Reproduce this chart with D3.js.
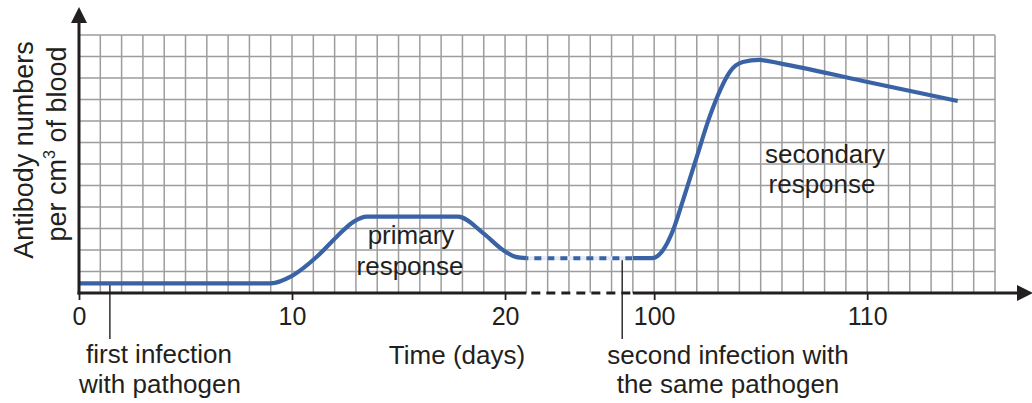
<!DOCTYPE html>
<html>
<head>
<meta charset="utf-8">
<script src="https://cdn.jsdelivr.net/npm/d3@7/dist/d3.min.js"></script>
<style>
  html, body { margin: 0; padding: 0; background: #fff; }
  svg { display: block; }
  text { font-family: "Liberation Sans", Arial, Helvetica, sans-serif; fill: #231f20; }
</style>
</head>
<body>
<svg id="chart" width="1032" height="403"></svg>
<script>
// ---- data (day, antibody level in grid units) ----
const primaryDays   = [0, 9, 10, 11.2, 12.1, 12.9, 13.5, 17.8, 19, 19.9, 20.5, 21];
const primaryValues = [0.45, 0.45, 0.8, 1.72, 2.62, 3.32, 3.55, 3.55, 2.76, 2.0, 1.68, 1.62];
const gapDays       = [21, 99];
const gapValues     = [1.62, 1.62];
const secondaryDays   = [99, 99.9, 100.42, 100.89, 101.36, 102.0, 102.6, 103.1, 103.55, 104.16, 104.95, 105.9, 109.8, 114.25];
const secondaryValues = [1.62, 1.62, 2.0, 2.93, 4.33, 6.33, 8.19, 9.44, 10.28, 10.74, 10.84, 10.68, 9.86, 8.93];
const tickDays   = [0, 10, 20, 100, 110];
const tickLabels = ["0", "10", "20", "100", "110"];
const firstInfectionDay  = 1.45;
const secondInfectionDay = 98.5;
const breakStartDay = 21, breakEndDay = 99;

const svg = d3.select("#chart");
const ink = "#231f20";
const blue = "#3a63a6";

// grid cells: 43 columns, 12 rows
const cellX = d3.scaleLinear().domain([0, 43]).range([79, 995]);
const x = d3.scaleLinear()
  .domain([0, 21, 97, 116])
  .range([cellX(0), cellX(21), cellX(24), cellX(43)]);
const y = d3.scaleLinear().domain([0, 12]).range([293, 35]);

// grid
const grid = svg.append("g");
grid.selectAll("line.v").data(d3.range(1, 44)).join("line")
  .attr("x1", d => cellX(d)).attr("x2", d => cellX(d))
  .attr("y1", y(12)).attr("y2", y(0))
  .attr("stroke", "#9d9d9d").attr("stroke-width", 1.5);
grid.selectAll("line.h").data(d3.range(1, 13)).join("line")
  .attr("x1", cellX(0)).attr("x2", cellX(43))
  .attr("y1", d => y(d)).attr("y2", d => y(d))
  .attr("stroke", "#9d9d9d").attr("stroke-width", 1.5);

// infection markers
function curveAt(days, vals, d) {
  return d3.scaleLinear().domain(days).range(vals)(d);
}
svg.append("line")
  .attr("x1", x(firstInfectionDay)).attr("x2", x(firstInfectionDay))
  .attr("y1", y(curveAt(primaryDays, primaryValues, firstInfectionDay))).attr("y2", 339)
  .attr("stroke", ink).attr("stroke-width", 1.4);
svg.append("line")
  .attr("x1", x(secondInfectionDay)).attr("x2", x(secondInfectionDay))
  .attr("y1", y(gapValues[0])).attr("y2", 339)
  .attr("stroke", ink).attr("stroke-width", 1.4);

// curves
const line = d3.line().x(d => x(d[0])).y(d => y(d[1])).curve(d3.curveMonotoneX);
const prim = d3.zip(primaryDays, primaryValues);
const gap  = d3.zip(gapDays, gapValues);
const sec  = d3.zip(secondaryDays, secondaryValues);

svg.append("path").attr("d", line(gap)).attr("fill", "none")
  .attr("stroke", "#e3eaf5").attr("stroke-width", 4);
svg.append("path").attr("d", line(gap)).attr("fill", "none")
  .attr("stroke", blue).attr("stroke-width", 4)
  .attr("stroke-dasharray", "7,6").attr("stroke-dashoffset", -8);
[prim, sec].forEach(s => {
  svg.append("path").attr("d", line(s)).attr("fill", "none")
    .attr("stroke", blue).attr("stroke-width", 4.2)
    .attr("stroke-linecap", "butt").attr("stroke-linejoin", "round");
});

// axes
const xAxis = d3.axisBottom(x).tickValues(tickDays).tickSize(7).tickFormat((d, i) => tickLabels[i]);
const gx = svg.append("g").attr("transform", `translate(0,${y(0)})`).call(xAxis);
gx.select(".domain").remove();
gx.selectAll(".tick line").attr("stroke", ink).attr("stroke-width", 1.8);
gx.selectAll(".tick text")
  .attr("y", 32).attr("dy", null)
  .style("font-family", "'Liberation Sans', Arial, sans-serif")
  .style("font-size", "25px").attr("fill", ink);

// x axis line with break
svg.append("line").attr("x1", 77.5).attr("x2", x(breakStartDay))
  .attr("y1", y(0)).attr("y2", y(0)).attr("stroke", ink).attr("stroke-width", 3);
svg.append("line").attr("x1", x(breakStartDay)).attr("x2", x(breakEndDay))
  .attr("y1", y(0)).attr("y2", y(0)).attr("stroke", ink).attr("stroke-width", 3)
  .attr("stroke-dasharray", "9,6").attr("stroke-dashoffset", -5);
svg.append("line").attr("x1", x(breakEndDay)).attr("x2", 1018)
  .attr("y1", y(0)).attr("y2", y(0)).attr("stroke", ink).attr("stroke-width", 3);
svg.append("path").attr("d", "M1017,285 L1033,293 L1017,301 Z").attr("fill", ink);

// y axis line with arrow
svg.append("line").attr("x1", 79).attr("x2", 79).attr("y1", 294.5).attr("y2", 20)
  .attr("stroke", ink).attr("stroke-width", 3);
svg.append("path").attr("d", "M79,7 L71,23 L87,23 Z").attr("fill", ink);

// texts
function label(tx, ty, str, size, anchor = "middle") {
  return svg.append("text").attr("x", tx).attr("y", ty)
    .attr("text-anchor", anchor).style("font-size", size + "px").text(str);
}
label(457, 364, "Time (days)", 26);
label(159, 363, "first infection", 26);
label(160, 393, "with pathogen", 26);
label(728, 364, "second infection with", 26);
label(728, 393, "the same pathogen", 26);
label(411, 244, "primary", 26);
label(410, 275, "response", 26);
label(825, 163, "secondary", 26);
label(822, 193, "response", 26);

// y axis title
svg.append("text").attr("transform", "translate(33,150) rotate(-90)")
  .attr("text-anchor", "middle").style("font-size", "27px").text("Antibody numbers");
const t2 = svg.append("text").attr("transform", "translate(66,144) rotate(-90)")
  .attr("text-anchor", "middle").style("font-size", "27px");
t2.append("tspan").text("per cm");
t2.append("tspan").attr("dy", -11).style("font-size", "16px").text("3");
t2.append("tspan").attr("dy", 11).text(" of blood");
</script>
</body>
</html>
